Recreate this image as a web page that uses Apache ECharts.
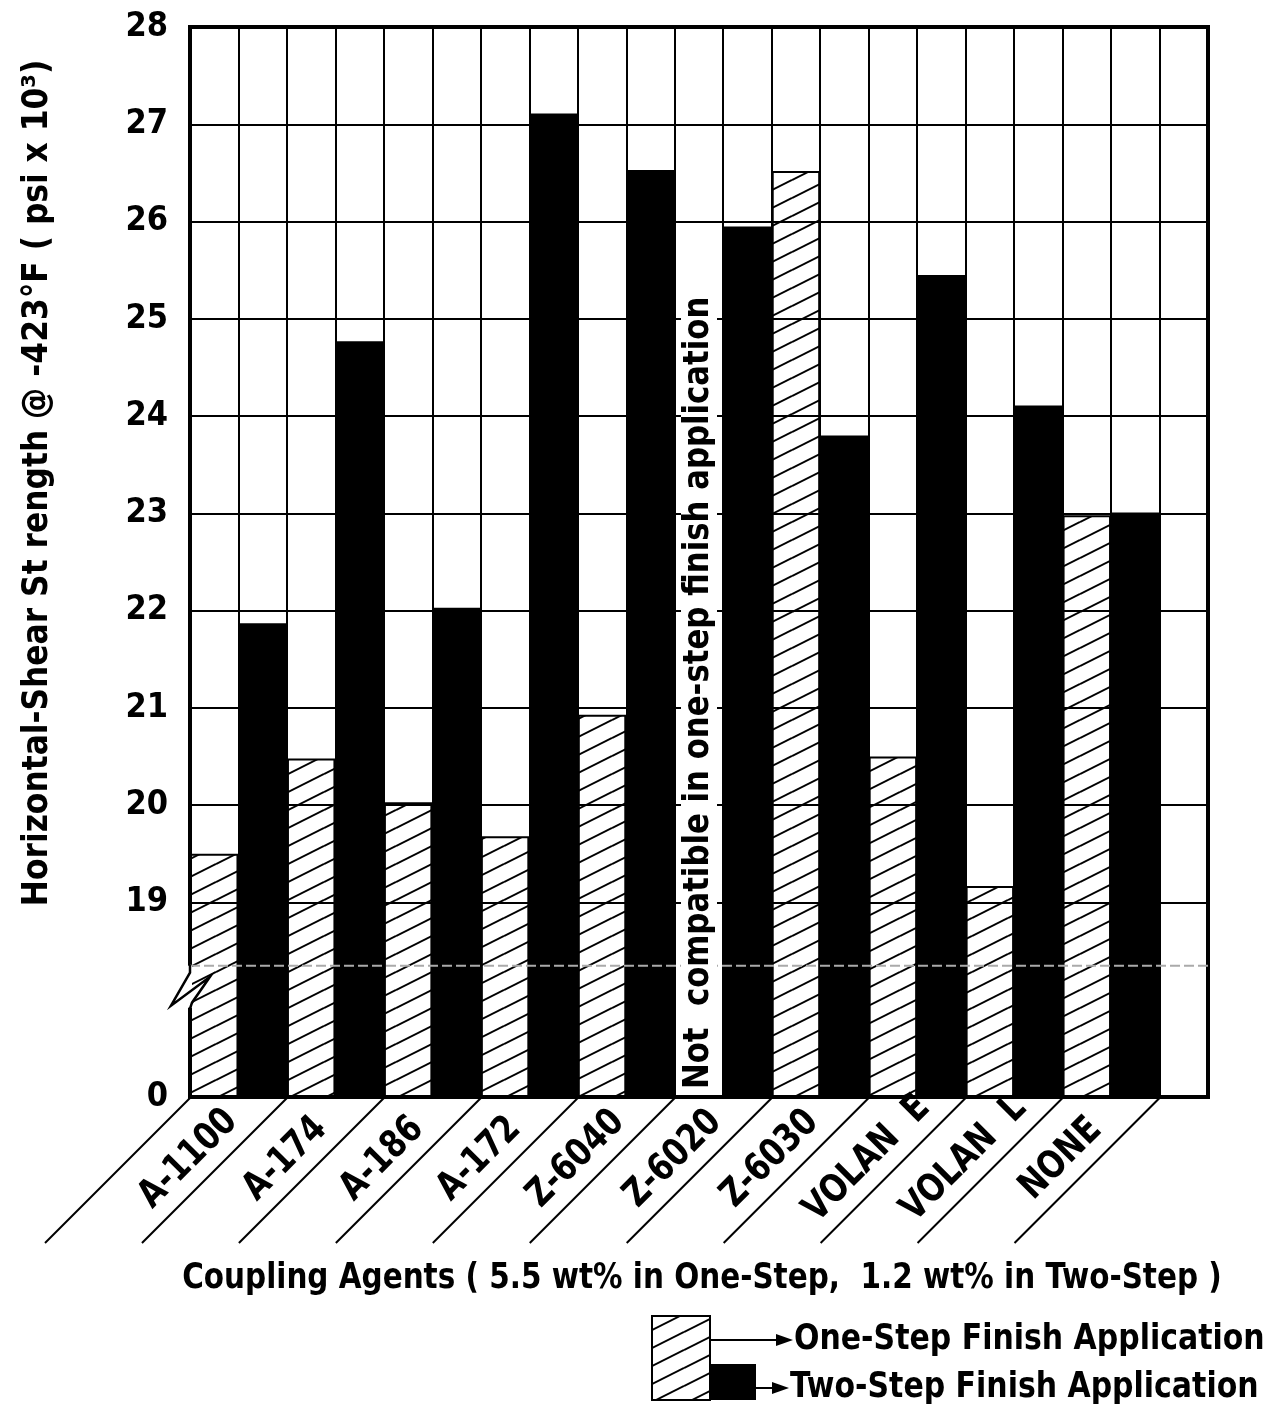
<!DOCTYPE html>
<html><head><meta charset="utf-8">
<script src="https://cdn.jsdelivr.net/npm/echarts@6/dist/echarts.min.js"></script>
<style>html,body{margin:0;padding:0;background:#fff}#c{width:1268px;height:1416px}</style>
</head><body><div id="c"></div>
<script>
// ---- data ----
const categories = ['A-1100', 'A-174', 'A-186', 'A-172', 'Z-6040', 'Z-6020', 'Z-6030', 'VOLAN  E', 'VOLAN  L', 'NONE'];
const oneStep = [19.5, 20.48, 20.03, 19.68, 20.93, null, 26.52, 20.5, 19.17, 22.98];
const twoStep = [21.87, 24.77, 22.03, 27.11, 26.53, 25.95, 23.8, 25.45, 24.11, 23.01];
const yTickLabels = ['0', '', '19', '20', '21', '22', '23', '24', '25', '26', '27', '28'];
const seriesNames = ['One-Step Finish Application', 'Two-Step Finish Application'];
const yTitle = 'Horizontal-Shear St rength @ -423°F ( psi x 10³)';
const xTitle = 'Coupling Agents ( 5.5 wt% in One-Step,  1.2 wt% in Two-Step )';
const noteText = 'Not  compatible in one-step finish application';
const BREAK_OFFSET = 17;      // values above the axis break are shown as value - 17
const BREAK_MARK = 1.35;      // where the break is drawn (axis units)

const FONT = "'DejaVu Sans Condensed', 'Liberation Sans', sans-serif";
const toAxis = v => v == null ? null : (v === 0 ? 0 : v - BREAK_OFFSET);

// slots: two bars per category plus one empty slot at the end
const slots = [];
categories.forEach(c => { slots.push(c + ' one-step', c + ' two-step'); });
slots.push('');
const oneData = slots.map(() => null);
const twoData = slots.map(() => null);
categories.forEach((c, i) => { oneData[2 * i] = toAxis(oneStep[i]); twoData[2 * i + 1] = toAxis(twoStep[i]); });

function hatch() {
  const cv = document.createElement('canvas');
  cv.width = 36; cv.height = 18;
  const g = cv.getContext('2d');
  g.strokeStyle = '#000'; g.lineWidth = 2;
  for (const dy of [-18, 0, 18]) { g.beginPath(); g.moveTo(0, 18 + dy); g.lineTo(36, dy); g.stroke(); }
  return cv;
}
const hatchFill = { image: hatch(), repeat: 'repeat' };

const chart = echarts.init(document.getElementById('c'), null, { renderer: 'canvas' });

const decoData = categories.map((c, i) => [2 * i, 0]).concat([[2 * categories.length, 0]]);
const txt = (extra) => Object.assign({ fill: '#000', fontFamily: FONT, fontWeight: 'bold' }, extra);

const option = {
  animation: false,
  backgroundColor: '#fff',
  grid: { left: 190, right: 60, top: 27, bottom: 319, show: true, borderColor: '#000', borderWidth: 4, backgroundColor: 'transparent', outerBoundsMode: 'none' },
  xAxis: {
    type: 'category', data: slots, boundaryGap: true,
    axisLine: { show: true, lineStyle: { color: '#000', width: 4 } },
    axisTick: { show: false }, axisLabel: { show: false },
    splitLine: { show: true, interval: 0, lineStyle: { color: '#000', width: 2 } }
  },
  yAxis: {
    type: 'value', min: 0, max: 11, interval: 1,
    axisLine: { show: true, lineStyle: { color: '#000', width: 4 } },
    axisTick: { show: false },
    axisLabel: { formatter: v => yTickLabels[v] ?? '', color: '#000', fontFamily: FONT, fontWeight: 'bold', fontSize: 34, margin: 22 },
    splitLine: { show: true, lineStyle: { color: yTickLabels.map(l => l === '' ? 'rgba(0,0,0,0)' : '#000'), width: 2 } }
  },
  series: [
    { name: seriesNames[0], type: 'bar', data: oneData, barWidth: '100%', barGap: '-100%',
      itemStyle: { color: hatchFill, borderColor: '#000', borderWidth: 2 } },
    { name: seriesNames[1], type: 'bar', data: twoData, barWidth: '100%', barGap: '-100%',
      itemStyle: { color: '#000' } },
    { type: 'custom', coordinateSystem: 'cartesian2d', clip: false, silent: true, z: 5,
      data: decoData, encode: { x: 0, y: 1 },
      renderItem(params, api) {
        const k = params.dataIndex;
        const slotW = api.size([1, 0])[0];
        const base = api.coord([api.value(0), 0]);
        const x0 = base[0] - slotW / 2;
        const y0 = base[1];
        const ch = [];
        ch.push({ type: 'line', shape: { x1: x0, y1: y0 + 1, x2: x0 - 145, y2: y0 + 146 }, style: { stroke: '#000', lineWidth: 2 } });
        if (k < categories.length) {
          const mid = x0 + slotW;
          ch.push({ type: 'text', x: mid - 50, y: y0 + 62, rotation: Math.PI / 4, scaleX: 0.9,
            style: txt({ text: categories[k], fontSize: 38, align: 'center', verticalAlign: 'middle', textAlign: 'center', textVerticalAlign: 'middle' }) });
          if (oneStep[k] == null) {
            const cx = base[0];
            ch.push({ type: 'text', x: cx, y: y0 - 6, rotation: Math.PI / 2, scaleX: 0.95, z2: 10,
              style: txt({ text: noteText, fontSize: 36, align: 'left', verticalAlign: 'middle', textAlign: 'left', textVerticalAlign: 'middle', backgroundColor: '#fff', padding: [0, 2, 0, 2] }) });
          }
        }
        if (k === 0) {
          const yb = api.coord([0, BREAK_MARK])[1];
          const xr = api.coord([slots.length - 1, 0])[0] + slotW / 2;
          ch.push({ type: 'line', shape: { x1: x0, y1: yb, x2: xr, y2: yb }, style: { stroke: '#aaa', lineWidth: 2, lineDash: [10, 4] } });
          ch.push({ type: 'rect', shape: { x: x0 - 3, y: yb, width: 5, height: 42 }, style: { fill: '#fff' } });
          ch.push({ type: 'polyline', shape: { points: [[x0, yb - 1], [x0, yb + 7], [x0 - 19, yb + 40], [x0 + 20, yb + 11], [x0 + 2, yb + 37], [x0, yb + 43]] },
            style: { stroke: '#000', lineWidth: 2.5, fill: null } });
        }
        return { type: 'group', children: ch };
      }
    }
  ],
  graphic: [
    { type: 'text', x: 38, y: 483, rotation: Math.PI / 2, scaleX: 0.967,
      style: txt({ text: yTitle, fontSize: 36, align: 'center', verticalAlign: 'middle', textAlign: 'center', textVerticalAlign: 'middle' }) },
    { type: 'text', x: 702, y: 1279, scaleX: 0.91,
      style: txt({ text: xTitle, fontSize: 36, align: 'center', verticalAlign: 'middle', textAlign: 'center', textVerticalAlign: 'middle' }) },
    { type: 'rect', shape: { x: 652, y: 1316, width: 58, height: 84 }, style: { fill: hatchFill, stroke: '#000', lineWidth: 2 } },
    { type: 'rect', shape: { x: 710, y: 1364, width: 46, height: 36 }, style: { fill: '#000' } },
    { type: 'line', shape: { x1: 710, y1: 1340, x2: 780, y2: 1340 }, style: { stroke: '#000', lineWidth: 2 } },
    { type: 'polygon', shape: { points: [[776, 1334], [793, 1340], [776, 1346]] }, style: { fill: '#000' } },
    { type: 'text', x: 794, y: 1340, scaleX: 0.925,
      style: txt({ text: seriesNames[0], fontSize: 36, align: 'left', verticalAlign: 'middle', textAlign: 'left', textVerticalAlign: 'middle' }) },
    { type: 'line', shape: { x1: 756, y1: 1388, x2: 776, y2: 1388 }, style: { stroke: '#000', lineWidth: 2 } },
    { type: 'polygon', shape: { points: [[772, 1382], [789, 1388], [772, 1394]] }, style: { fill: '#000' } },
    { type: 'text', x: 790, y: 1388, scaleX: 0.925,
      style: txt({ text: seriesNames[1], fontSize: 36, align: 'left', verticalAlign: 'middle', textAlign: 'left', textVerticalAlign: 'middle' }) }
  ]
};
chart.setOption(option);
</script>
</body></html>
